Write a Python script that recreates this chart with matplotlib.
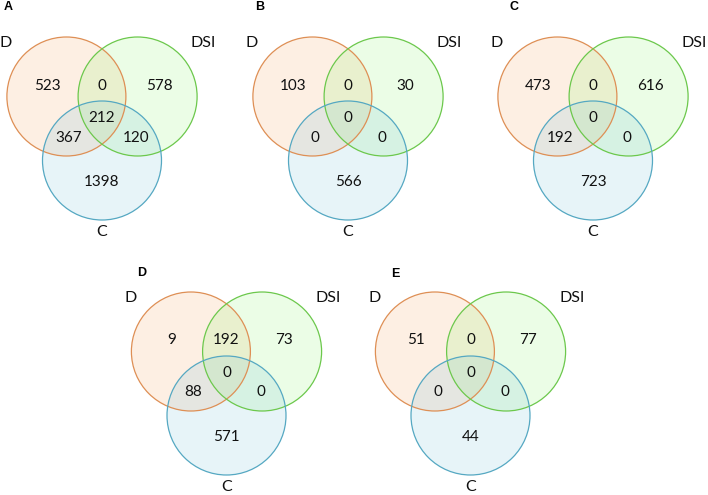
import matplotlib
matplotlib.use("Agg")
import matplotlib.pyplot as plt
from matplotlib.patches import Circle

# panel letters and set names
panels = ['A', 'B', 'C', 'D', 'E']
set_names = ['D', 'DSI', 'C']

# counts per region: D only, D&DSI, DSI only, all three, D&C, DSI&C, C only
counts_A = [523, 0, 578, 212, 367, 120, 1398]
counts_B = [103, 0, 30, 0, 0, 0, 566]
counts_C = [473, 0, 616, 0, 192, 0, 723]
counts_D = [9, 192, 73, 0, 88, 0, 571]
counts_E = [51, 0, 77, 0, 0, 0, 44]
all_counts = [counts_A, counts_B, counts_C, counts_D, counts_E]

# layout (pixels): panel centre, and panel-letter offset
origins = [(102, 96.5), (348, 96.5), (593, 96.5), (226.5, 351.5), (470.5, 351.5)]
letter_pos = [(8.5, 7.5), (260, 7.5), (514, 7.5), (142, 273.5), (395, 274)]

R = 59.5
circ_off = [(-35.6, 0), (35.6, 0), (0, 64)]
edge_cols = ['#DE8F55', '#6CC84C', '#55A8C2']
face_cols = ['#F79646', '#8CF56B', '#62B8D6']
face_alpha = [0.15, 0.17, 0.15]
name_off = [(-96, -53.5), (101.5, -53.5), (0, 135.5)]
region_off = [(-55, -11), (0, -11), (57, -11), (0, 21.5),
              (-33, 41), (34, 41), (0, 85.5)]

fig = plt.figure(figsize=(7.08, 4.95), dpi=100)
ax = fig.add_axes([0, 0, 1, 1])
ax.set_xlim(0, 708)
ax.set_ylim(495, 0)
ax.set_aspect('equal')
ax.axis('off')

for p, counts, (ox, oy), (lx, ly) in zip(panels, all_counts, origins, letter_pos):
    for k in range(3):
        dx, dy = circ_off[k]
        ax.add_patch(Circle((ox + dx, oy + dy), R, facecolor=face_cols[k],
                            alpha=face_alpha[k], edgecolor='none'))
    for k in range(3):
        dx, dy = circ_off[k]
        ax.add_patch(Circle((ox + dx, oy + dy), R, facecolor='none',
                            edgecolor=edge_cols[k], linewidth=0.9))
    for name, (dx, dy) in zip(set_names, name_off):
        ax.text(ox + dx, oy + dy, name, ha='center', va='center',
                fontsize=11.5, family='Lato', color='#111111')
    for n, (dx, dy) in zip(counts, region_off):
        ax.text(ox + dx, oy + dy, str(n), ha='center', va='center',
                fontsize=11, family='Lato', color='#111111')
    ax.text(lx, ly, p, ha='center', va='center', fontsize=9,
            fontweight='bold', family='Liberation Sans')

fig.savefig('out.png', dpi=100)
